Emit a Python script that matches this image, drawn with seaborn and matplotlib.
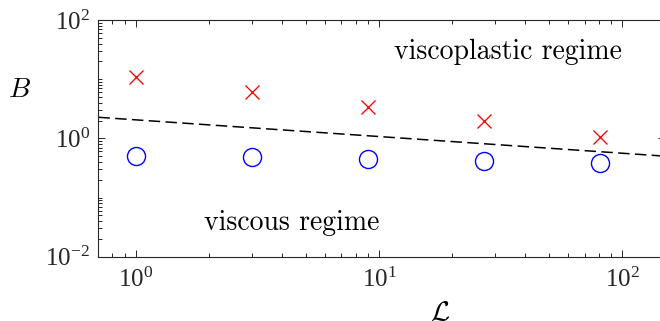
import numpy as np
import pandas as pd
import matplotlib
matplotlib.use("Agg")
import matplotlib.pyplot as plt
import matplotlib.ticker as mticker
import seaborn as sns

# ---- data ----
L_vals = [1, 3, 9, 27, 81]
B_viscoplastic = [11.0, 6.05, 3.4, 1.95, 1.06]
B_viscous = [0.50, 0.477, 0.452, 0.413, 0.387]
boundary_L = [0.7, 150]
boundary_B = [2.27, 0.50]
x_ticks = [1, 10, 100]
y_ticks = [1e-2, 1, 1e2]

sns.set_theme(style="ticks")
plt.rcParams["font.family"] = ["Liberation Serif", "DejaVu Serif"]
plt.rcParams["mathtext.fontset"] = "custom"
plt.rcParams["mathtext.rm"] = "Liberation Serif"
plt.rcParams["mathtext.it"] = "Liberation Serif:italic"

fig = plt.figure(figsize=(6.6, 3.21), dpi=100)
ax = fig.add_axes([98.4 / 660, 64.3 / 321, (665 - 98.4) / 660, (256.7 - 20) / 321])

df_vp = pd.DataFrame({"L": L_vals, "B": B_viscoplastic})
df_v = pd.DataFrame({"L": L_vals, "B": B_viscous})
df_line = pd.DataFrame({"L": boundary_L, "B": boundary_B})

sns.lineplot(data=df_line, x="L", y="B", ax=ax, color="black", linewidth=1.1,
             linestyle=(0, (7.5, 3.5)), estimator=None, sort=False)
sns.lineplot(data=df_vp, x="L", y="B", ax=ax, color="red", linestyle="none",
             marker="x", markersize=9.6, markeredgewidth=0.95,
             markeredgecolor="red", estimator=None)
sns.lineplot(data=df_v, x="L", y="B", ax=ax, color="blue", linestyle="none",
             marker="o", markersize=13, markerfacecolor="none",
             markeredgecolor="blue", markeredgewidth=1.0, estimator=None)

ax.set_xscale("log")
ax.set_yscale("log")
ax.set_xlim(0.7, 150)
ax.set_ylim(1e-2, 1e2)
ax.xaxis.set_major_locator(mticker.FixedLocator(x_ticks))
ax.yaxis.set_major_locator(mticker.FixedLocator(y_ticks))
ax.xaxis.set_minor_locator(mticker.LogLocator(base=10, subs=np.arange(1, 10), numticks=100))
ax.yaxis.set_minor_locator(mticker.LogLocator(base=10, subs=np.arange(1, 10), numticks=100))
ax.xaxis.set_major_formatter(mticker.LogFormatterSciNotation())
ax.yaxis.set_major_formatter(mticker.LogFormatterSciNotation())
ax.xaxis.set_minor_formatter(mticker.NullFormatter())
ax.yaxis.set_minor_formatter(mticker.NullFormatter())

gray = "#262626"
for s in ax.spines.values():
    s.set_color(gray)
    s.set_linewidth(0.8)
ax.tick_params(which="both", direction="in", top=True, right=True, colors=gray,
               width=0.7, labelsize=18)
ax.tick_params(which="major", length=4.8)
ax.tick_params(which="minor", length=3.0)
ax.tick_params(axis="x", which="major", pad=8)
ax.tick_params(axis="y", which="major", pad=6)

ax.set_xlabel(r"$\mathcal{L}$", fontsize=20, math_fontfamily="cm", color="black")
ax.set_ylabel(r"$B$", fontsize=20, math_fontfamily="cm", rotation=0, color="black")
ax.xaxis.set_label_coords(0.603, -0.238)
ax.yaxis.set_label_coords(-0.140, 0.704)
ax.xaxis.label.set_va("center")
ax.yaxis.label.set_va("center")
ax.yaxis.label.set_ha("center")

ax.text(11.5, 28.7, "viscoplastic regime", fontfamily="cmr10", fontsize=20,
        ha="left", va="center", color="black")
ax.text(1.9, 0.037, "viscous regime", fontfamily="cmr10", fontsize=20,
        ha="left", va="center", color="black")

fig.savefig("out.png", dpi=100)
